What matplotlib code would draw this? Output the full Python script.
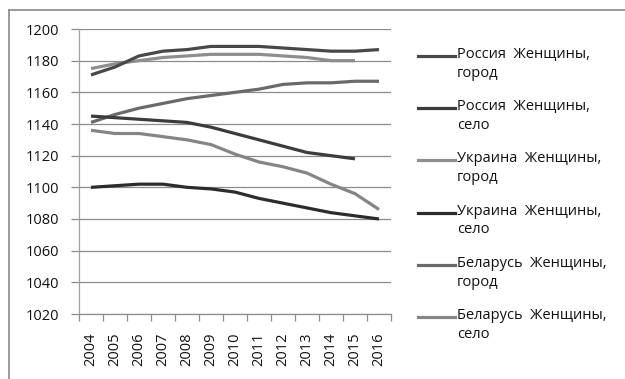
import matplotlib
matplotlib.use("Agg")
import matplotlib.pyplot as plt
from matplotlib.lines import Line2D

years = [str(y) for y in range(2004, 2017)]

russia_city = [1171, 1176, 1183, 1186, 1187, 1189, 1189, 1189, 1188, 1187, 1186, 1186, 1187]
russia_village = [1145, 1144, 1143, 1142, 1141, 1138, 1134, 1130, 1126, 1122, 1120, 1118]
ukraine_city = [1175, 1178, 1180, 1182, 1183, 1184, 1184, 1184, 1183, 1182, 1180, 1180]
ukraine_village = [1100, 1101, 1102, 1102, 1100, 1099, 1097, 1093, 1090, 1087, 1084, 1082, 1080]
belarus_city = [1141, 1146, 1150, 1153, 1156, 1158, 1160, 1162, 1165, 1166, 1166, 1167, 1167]
belarus_village = [1136, 1134, 1134, 1132, 1130, 1127, 1121, 1116, 1113, 1109, 1102, 1096, 1086]

labels = [
    "Россия  Женщины,\nгород",
    "Россия  Женщины,\nсело",
    "Украина  Женщины,\nгород",
    "Украина  Женщины,\nсело",
    "Беларусь  Женщины,\nгород",
    "Беларусь  Женщины,\nсело",
]
series = [russia_city, russia_village, ukraine_city, ukraine_village, belarus_city, belarus_village]
colors = ["#484848", "#3c3c3c", "#8e8e8e", "#2c2c2c", "#6a6a6a", "#858585"]

plt.rcParams["font.family"] = ["Open Sans", "DejaVu Sans"]

W, H = 625, 379
fig = plt.figure(figsize=(W / 100, H / 100), dpi=100)
ax = fig.add_axes([79 / W, 1 - 314 / H, (391 - 79) / W, (314 - 29) / H])

# draw back-to-front so the darker series sit on top
order = [4, 5, 2, 0, 1, 3]
for i in order:
    vals = series[i]
    ax.plot(range(len(vals)), vals, color=colors[i], lw=2.3,
            solid_capstyle="butt", solid_joinstyle="round", zorder=3)

ax.set_xlim(-0.5, len(years) - 0.5)
ax.set_ylim(1020, 1200)
ax.set_yticks(range(1020, 1201, 20))
ax.yaxis.grid(True, color="#8c8c8c", lw=0.9)
ax.set_axisbelow(True)

ax.set_xticks(range(len(years)))
ax.set_xticklabels(years, rotation=90)
ax.set_xticks([i - 0.5 for i in range(len(years) + 1)], minor=True)
ax.tick_params(axis="x", which="major", length=0, pad=13, labelsize=10.5, colors="#111111")
ax.tick_params(axis="x", which="minor", length=5, color="#8c8c8c", width=0.9)
ax.tick_params(axis="y", length=6, width=0.9, labelsize=10.5, colors="#111111", pad=8)
ax.tick_params(axis="y", color="#8c8c8c")

for s in ["top", "right"]:
    ax.spines[s].set_visible(False)
ax.spines["left"].set_color("#a0a0a0")
ax.spines["left"].set_linewidth(0.9)
ax.spines["bottom"].set_color("#8c8c8c")
ax.spines["bottom"].set_linewidth(0.9)

# legend, with each handle level with the first line of its label
for k in range(len(labels)):
    y = 1 - (56 + 52.2 * k) / H
    fig.add_artist(Line2D([418 / W, 455 / W], [y, y], color=colors[k], lw=2.3,
                          transform=fig.transFigure))
    fig.text(457 / W, y + 9 / H, labels[k], ha="left", va="top", fontsize=10.5,
             color="#111111", linespacing=1.35)

# outer frame (top and left edges)
fig.add_artist(Line2D([8.5 / W, 1.0], [1 - 9.5 / H, 1 - 9.5 / H], color="#8a8a8a", lw=1.2,
                      transform=fig.transFigure))
fig.add_artist(Line2D([8.5 / W, 8.5 / W], [0.0, 1 - 9.5 / H], color="#8a8a8a", lw=1.2,
                      transform=fig.transFigure))

fig.savefig("out.png", dpi=100)
